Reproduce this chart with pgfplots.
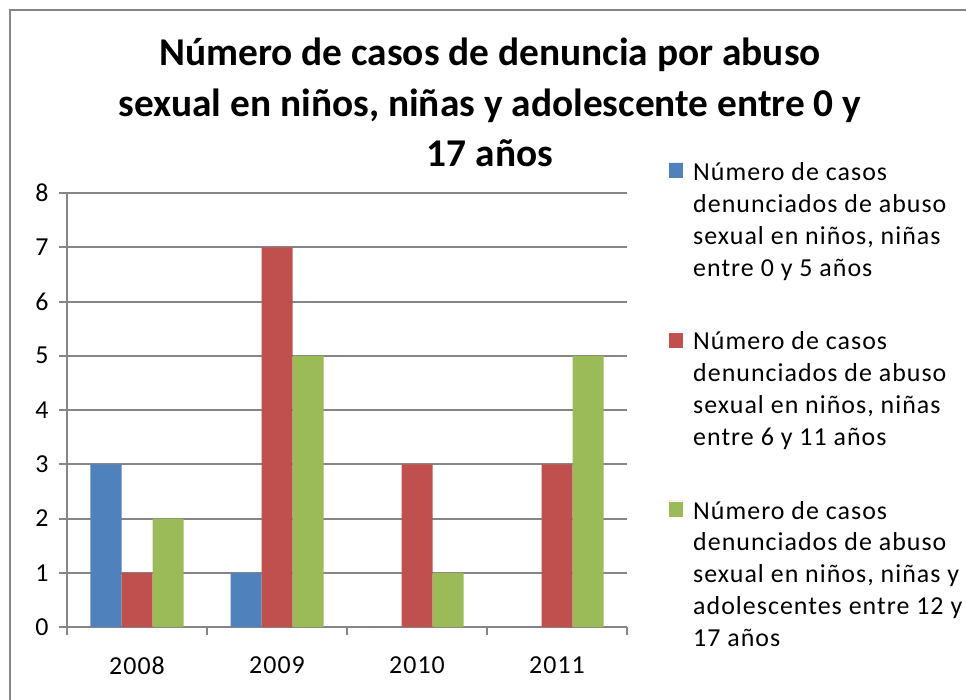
\documentclass[border=0pt]{standalone}
\usepackage{fontspec}
\setmainfont{Carlito}[LetterSpace=4]
\newfontfamily\titlefont{Carlito}
\usepackage{pgfplots}
\pgfplotsset{compat=1.18}
\definecolor{serA}{HTML}{4F81BD}
\definecolor{serB}{HTML}{C0504D}
\definecolor{serC}{HTML}{9BBB59}
\definecolor{gridc}{HTML}{868686}

\begin{document}
\begin{tikzpicture}[x=1bp,y=1bp]
\coordinate (O) at (67,-627);
\draw[gridc, line width=2.5bp] (10,-700) -- (10,-10) -- (966,-10);
\node[font=\titlefont\bfseries\fontsize{39.5}{51}\selectfont, align=center, anchor=base, inner sep=0pt]
  at (490,-167) {Número de casos de denuncia por abuso\\sexual en niños, niñas y adolescente entre 0 y\\17 años};

\begin{axis}[
    at={(O)}, anchor=south west,
    scale only axis, width=560bp, height=434bp,
    xmin=-0.5, xmax=3.5, ymin=0, ymax=8,
    ybar=0pt, bar width=31bp,
    axis x line*=bottom, axis y line*=left,
    axis line style={gridc, line width=2bp, -},
    ymajorgrids, grid style={gridc, line width=2bp},
    tick style={gridc, line width=2bp},
    tick align=outside, major tick length=8bp,
    ytick={0,...,8},
    xtick={-0.5,0.5,1.5,2.5,3.5}, xticklabels={},
    extra x ticks={0,1,2,3},
    extra x tick labels={2008,2009,2010,2011},
    extra x tick style={tick style={draw=none}},
    ticklabel style={font=\fontsize{26}{30}\selectfont, text=black},
    yticklabel style={xshift=-7bp},
    extra x tick style={xticklabel style={yshift=-18bp}},
    /pgf/number format/assume math mode=true,
    legend style={at={(rel axis cs:1,1)}, anchor=north west, xshift=42bp, yshift=31bp,
        draw=none, inner sep=0pt, row sep=54bp, column sep=10bp,
        font=\fontsize{26}{32}\selectfont,
        cells={anchor=north west},
        nodes={inner sep=0pt, align=left}},
    legend image code/.code={\path (0bp,0bp) -- (14bp,0bp);
        \fill[#1] (0bp,-1bp) rectangle (14bp,-16bp);},
]
\addplot[fill=serA, draw=none] coordinates {(0,3) (1,1) (2,0) (3,0)};
\addlegendentry{Número de casos\\denunciados de abuso\\sexual en niños, niñas\\entre 0 y 5 años}
\addplot[fill=serB, draw=none] coordinates {(0,1) (1,7) (2,3) (3,3)};
\addlegendentry{Número de casos\\denunciados de abuso\\sexual en niños, niñas\\entre 6 y 11 años}
\addplot[fill=serC, draw=none] coordinates {(0,2) (1,5) (2,1) (3,5)};
\addlegendentry{Número de casos\\denunciados de abuso\\sexual en niños, niñas y\\adolescentes entre 12 y\\17 años}
\end{axis}
\pgfresetboundingbox
\path[use as bounding box] (0,0) rectangle (966,-700);
\end{tikzpicture}
\end{document}
